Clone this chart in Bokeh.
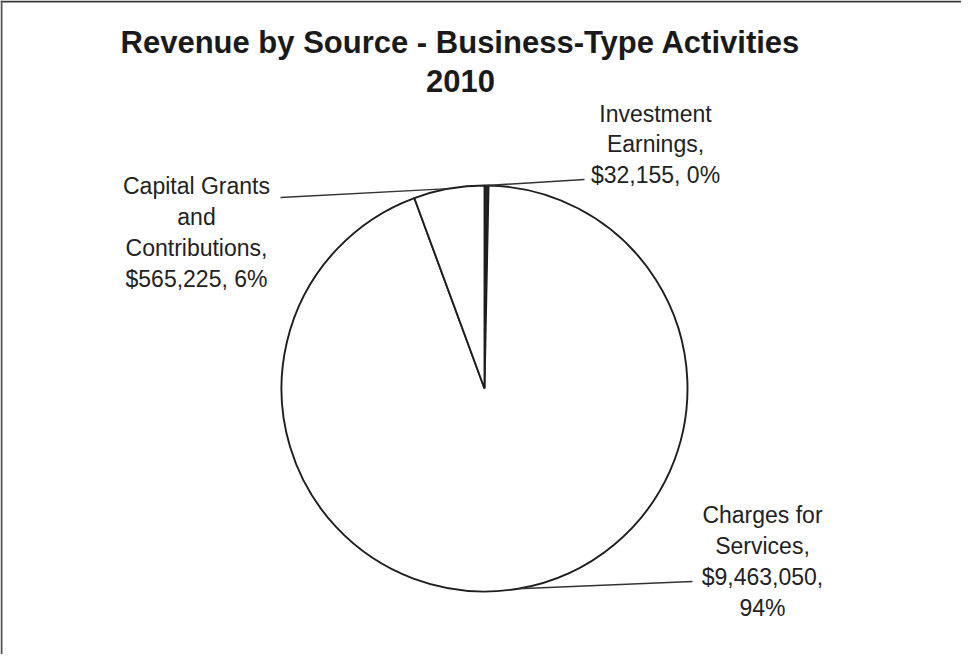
import math
from bokeh.plotting import figure
from bokeh.models import ColumnDataSource, Range1d, Span
from bokeh.core.properties import value
from bokeh.embed import file_html
from bokeh.resources import INLINE

# ---- data ----
categories = ["Investment\nEarnings", "Charges for\nServices", "Capital Grants\nand\nContributions"]
amounts = [32155, 9463050, 565225]
value_sep = [", ", ",\n", ", "]
title_lines = ["Revenue by Source - Business-Type Activities", "2010"]

# ---- layout constants (pixel-like data space) ----
W, H = 961, 654
CX, CY, R = 484, 266, 203
label_xy = [(655, 510), (762, 93), (196, 422)]
anchor_xy = [(584, 475), (692, 73), (280, 457)]
fills = ["#262626", "white", "white"]

total = sum(amounts)
fracs = [a / total for a in amounts]
starts, ends, mids = [], [], []
a = math.pi / 2
for f in fracs:
    starts.append(a)
    e = a - f * 2 * math.pi
    ends.append(e)
    mids.append((a + e) / 2)
    a = e

labels = []
for c, amt, f, s in zip(categories, amounts, fracs, value_sep):
    labels.append(f"{c},\n${amt:,}{s}{round(f * 100)}%")

p = figure(width=W, height=H, x_range=Range1d(0, W), y_range=Range1d(0, H),
           output_backend="svg", toolbar_location=None, min_border=0)
p.axis.visible = False
p.grid.visible = False
p.outline_line_color = None
p.background_fill_color = "white"
p.border_fill_color = "white"

# frame lines (top and left, as in the scan)
p.add_layout(Span(location=H - 1, dimension="width", line_color="#3a3a3a", line_width=2))
p.add_layout(Span(location=1, dimension="height", line_color="#555555", line_width=2))

src = ColumnDataSource(dict(start=starts, end=ends, fill=fills,
                            x=[CX] * 3, y=[CY] * 3))
p.wedge(x="x", y="y", radius=R, start_angle="start", end_angle="end",
        direction="clock", fill_color="fill", line_color="#1e1e1e",
        line_width=1.9, source=src)

# leader lines
x0 = [CX + R * math.cos(m) for m in mids]
y0 = [CY + R * math.sin(m) for m in mids]
p.segment(x0=x0, y0=y0, x1=[q[0] for q in anchor_xy], y1=[q[1] for q in anchor_xy],
          line_color="#333333", line_width=1.4)

p.text(x=[q[0] for q in label_xy], y=[q[1] for q in label_xy], text=labels,
       text_font=value("Liberation Sans"), text_font_size="23px",
       text_color="#222222", text_align="center", text_baseline="middle",
       text_line_height=1.18)

p.text(x=[460, 460], y=[612, 574], text=title_lines,
       text_font=value("Liberation Sans"), text_font_size="31px",
       text_font_style="bold", text_color="#1a1a1a",
       text_align="center", text_baseline="middle")

open("out.html", "w").write(file_html(p, INLINE))
